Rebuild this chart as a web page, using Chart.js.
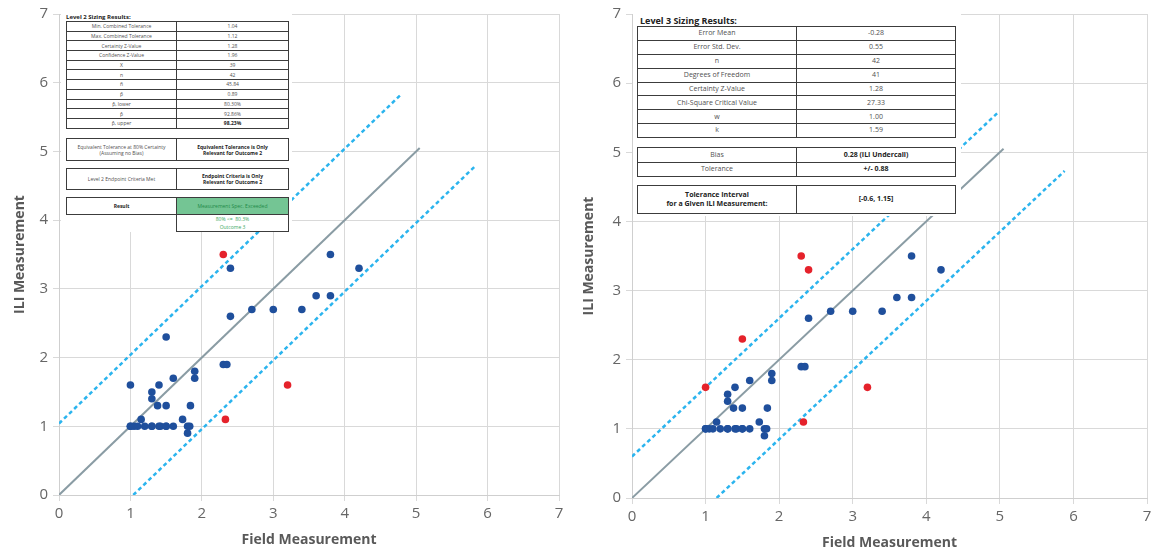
<!DOCTYPE html>
<html>
<head>
<meta charset="utf-8">
<script src="https://cdn.jsdelivr.net/npm/chart.js@4.4.1/dist/chart.umd.min.js"></script>
<style>
  html, body { margin: 0; padding: 0; background: #fff; overflow: hidden; }
  #wrap { position: relative; width: 1151px; height: 553px; overflow: hidden; }
  canvas { position: absolute; top: 0; }
  .panel { position: absolute; background: #fff; font-family: "Open Sans", sans-serif; color: #505050; }
  .panel .ttl { position: absolute; font-weight: bold; color: #222; white-space: nowrap; }
  .tbl { position: absolute; border-collapse: collapse; table-layout: fixed; }
  .tbl td { border: 1px solid #3c3c3c; text-align: center; padding: 0; white-space: nowrap; overflow: hidden; }
  .tbl td.b { font-weight: bold; color: #222; }
  #p2 .tbl td { font-size: 5px; line-height: 6px; }
  #p3 .tbl td { font-size: 7px; line-height: 8.5px; }
  td.spec { background: #74c594; color: #1f8a48; }
  td.note { color: #3aa862; border-top: none; }
</style>
</head>
<body>
<div id="wrap">
  <canvas id="chart-l2" width="575" height="553" style="left:0"></canvas>
  <canvas id="chart-l3" width="600" height="553" style="left:575px"></canvas>
  <div class="panel" id="p2" style="left:61px; top:13px; width:231px; height:219px"></div>
  <div class="panel" id="p3" style="left:633px; top:13px; width:328px; height:203px"></div>
</div>
<script>
// ── field vs ILI depth, 42 features (same set on both panels) ─────────
const fieldDepth = [2.3, 2.4, 3.8, 4.2, 3.6, 3.8, 2.7, 3.0, 3.4, 2.4,
  1.5, 2.3, 2.35, 1.9, 1.9, 1.6, 1.0, 1.4, 3.2, 1.3,
  1.3, 1.38, 1.5, 1.84, 1.15, 1.73, 2.33, 1.8,
  1.0, 1.05, 1.1, 1.2, 1.3, 1.4, 1.42, 1.5, 1.6, 1.8, 1.83, 1.0, 1.3, 1.5];
const iliDepth = [3.5, 3.3, 3.5, 3.3, 2.9, 2.9, 2.7, 2.7, 2.7, 2.6,
  2.3, 1.9, 1.9, 1.8, 1.7, 1.7, 1.6, 1.6, 1.6, 1.5,
  1.4, 1.3, 1.3, 1.3, 1.1, 1.1, 1.1, 0.9,
  1.0, 1.0, 1.0, 1.0, 1.0, 1.0, 1.0, 1.0, 1.0, 1.0, 1.0, 1.0, 1.0, 1.0];

// points falling outside the tolerance band (drawn red)
const outsideL2 = [0, 18, 26];
const outsideL3 = [0, 1, 10, 16, 18, 26];

// tolerance bands: y = x + offset, drawn up to x end
const unityEnd = 5.05;
const bandL2 = { upper: 1.04, lower: -1.04, upperEnd: 4.78, lowerEnd: 5.82 };
const bandL3 = { upper: 0.6, lower: -1.15, upperEnd: 4.98, lowerEnd: 5.88 };

const axisTicks = [0, 1, 2, 3, 4, 5, 6, 7];

// ── tables ───────────────────────────────────────────────────────────
const l2Labels = ["Min. Combined Tolerance", "Max. Combined Tolerance", "Certainty Z-Value", "Confidence Z-Value",
  "X", "n", "ñ", "p̃", "p̂, lower", "p̂", "p̂, upper"];
const l2Values = ["1.04", "1.12", "1.28", "1.96", "39", "42", "45.84", "0.89", "80.30%", "92.86%", "98.23%"];

const l3Labels = ["Error Mean", "Error Std. Dev.", "n", "Degrees of Freedom", "Certainty Z-Value",
  "Chi-Square Critical Value", "w", "k"];
const l3Values = ["-0.28", "0.55", "42", "41", "1.28", "27.33", "1.00", "1.59"];

const BLUE = "#1f4f9c";
const RED = "#e5222b";
const CYAN = "#2bb4ee";
const GREY_LINE = "#8a9ca4";

function rows(labels, values, h, boldLast) {
  return labels.map((l, i) => {
    const b = boldLast && i === labels.length - 1 ? ' class="b"' : "";
    return `<tr style="height:${h}px"><td>${l}</td><td${b}>${values[i]}</td></tr>`;
  }).join("");
}

document.getElementById("p2").innerHTML = `
  <div class="ttl" style="left:5px; top:0px; font-size:6px">Level 2 Sizing Results:</div>
  <table class="tbl" style="left:5px; top:8px; width:223px"><colgroup><col style="width:110px"><col></colgroup>
    ${rows(l2Labels, l2Values, 9.7, true)}</table>
  <table class="tbl" style="left:5px; top:125px; width:223px"><colgroup><col style="width:110px"><col></colgroup>
    <tr style="height:22px"><td>Equivalent Tolerance at 80% Certainty<br>(Assuming no Bias)</td>
    <td class="b">Equivalent Tolerance is Only<br>Relevant for Outcome 2</td></tr></table>
  <table class="tbl" style="left:5px; top:155px; width:223px"><colgroup><col style="width:110px"><col></colgroup>
    <tr style="height:21px"><td>Level 2 Endpoint Criteria Met</td>
    <td class="b">Endpoint Criteria is Only<br>Relevant for Outcome 2</td></tr></table>
  <table class="tbl" style="left:5px; top:184px; width:223px"><colgroup><col style="width:110px"><col></colgroup>
    <tr style="height:17px"><td class="b">Result</td><td class="spec">Measurement Spec. Exceeded</td></tr>
    <tr style="height:17px"><td style="border:none"></td><td class="note" style="line-height:8px">80% <= &nbsp;80.3%<br>Outcome 3</td></tr></table>`;

document.getElementById("p3").innerHTML = `
  <div class="ttl" style="left:7px; top:1px; font-size:9px">Level 3 Sizing Results:</div>
  <table class="tbl" style="left:4px; top:13px; width:319px"><colgroup><col style="width:159px"><col></colgroup>
    ${rows(l3Labels, l3Values, 13.9, false)}</table>
  <table class="tbl" style="left:4px; top:134px; width:319px"><colgroup><col style="width:159px"><col></colgroup>
    <tr style="height:14.5px"><td>Bias</td><td class="b">0.28 (ILI Undercall)</td></tr>
    <tr style="height:14.5px"><td>Tolerance</td><td class="b">+/- 0.88</td></tr></table>
  <table class="tbl" style="left:4px; top:172px; width:319px"><colgroup><col style="width:159px"><col></colgroup>
    <tr style="height:28px"><td class="b">Tolerance Interval<br>for a Given ILI Measurement:</td>
    <td class="b">[-0.6, 1.15]</td></tr></table>`;

// ── charts ───────────────────────────────────────────────────────────
function pts(idx) {
  return idx.map((i) => ({ x: fieldDepth[i], y: iliDepth[i] }));
}

function bandLine(offset, end) {
  const x0 = Math.max(0, -offset);
  return [{ x: x0, y: x0 + offset }, { x: end, y: end + offset }];
}

function makeChart(id, outside, band, geo) {
  const all = fieldDepth.map((_, i) => i);
  const red = all.filter((i) => outside.includes(i));
  const blue = all.filter((i) => !outside.includes(i));
  const dashed = { type: "line", borderColor: CYAN, borderWidth: 2.5, borderDash: [4, 3], pointRadius: 0, fill: false };

  return new Chart(document.getElementById(id), {
    type: "scatter",
    data: {
      datasets: [
        { data: pts(red), backgroundColor: RED, borderWidth: 0, pointRadius: 3.8 },
        { data: pts(blue), backgroundColor: BLUE, borderWidth: 0, pointRadius: 3.8 },
        Object.assign({ data: bandLine(band.upper, band.upperEnd) }, dashed),
        Object.assign({ data: bandLine(band.lower, band.lowerEnd) }, dashed),
        { type: "line", data: [{ x: 0, y: 0 }, { x: unityEnd, y: unityEnd }], borderColor: GREY_LINE,
          borderWidth: 2, pointRadius: 0, fill: false },
      ],
    },
    options: {
      responsive: false,
      animation: false,
      layout: { padding: { left: 0, top: 12, right: geo.padRight, bottom: 0 } },
      plugins: { legend: { display: false }, tooltip: { enabled: false } },
      scales: {
        x: {
          type: "linear", min: 0, max: 7,
          afterBuildTicks: (s) => { s.ticks = axisTicks.map((v) => ({ value: v })); },
          afterFit: (s) => { s.height = geo.xHeight; },
          grid: { color: "#d9d9d9", tickLength: 6 },
          border: { color: "#cfcfcf" },
          ticks: { color: "#666", font: { family: "Open Sans", size: 15 }, padding: 4 },
          title: { display: true, text: "Field Measurement", color: "#595959",
            font: { family: "Open Sans", size: 14, weight: "bold" }, padding: { top: 4, bottom: geo.xTitlePad } },
        },
        y: {
          type: "linear", min: 0, max: 7,
          afterBuildTicks: (s) => { s.ticks = axisTicks.map((v) => ({ value: v })); },
          afterFit: (s) => { s.width = geo.yWidth; },
          grid: { color: "#d9d9d9", tickLength: 6 },
          border: { color: "#cfcfcf" },
          ticks: { color: "#666", font: { family: "Open Sans", size: 15 }, padding: 5 },
          title: { display: true, text: "ILI Measurement", color: "#595959",
            font: { family: "Open Sans", size: 14, weight: "bold" }, padding: { top: geo.yTitlePad, bottom: 4 } },
        },
      },
    },
  });
}

makeChart("chart-l2", outsideL2, bandL2, { yWidth: 59, xHeight: 58, padRight: 16, yTitlePad: 12, xTitlePad: 5 });
makeChart("chart-l3", outsideL3, bandL3, { yWidth: 57, xHeight: 55, padRight: 28, yTitlePad: 6, xTitlePad: 2 });
</script>
</body>
</html>
